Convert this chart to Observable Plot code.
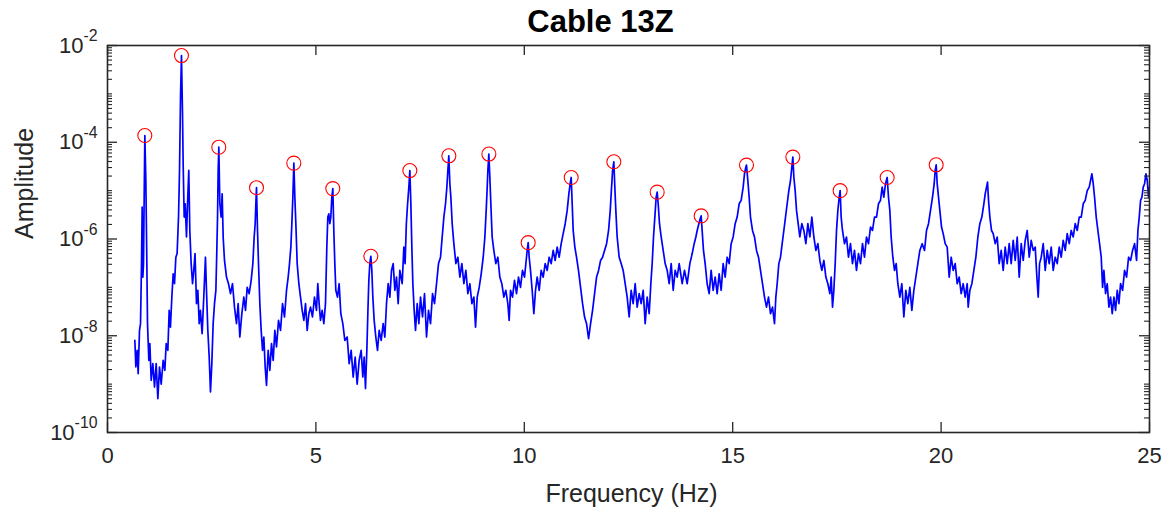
<!DOCTYPE html>
<html>
<head>
<meta charset="utf-8">
<script src="https://cdn.jsdelivr.net/npm/d3@7"></script>
<script src="https://cdn.jsdelivr.net/npm/@observablehq/plot@0.6"></script>
<style>
  html, body { margin: 0; padding: 0; background: #fff; }
  #chart { width: 1171px; height: 508px; }
</style>
</head>
<body>
<div id="chart"></div>
<script>
// Amplitude spectrum of cable 13Z: [frequency (Hz), amplitude]
const spectrum0to7 = [
  [0.656,8.0e-9],[0.68,2.26e-9],[0.712,5.0e-9],[0.736,1.64e-9],[0.768,1.29e-8],[0.792,1.78e-8],[0.816,3.1e-7],[0.832,4.57e-6],
  [0.848,1.63e-7],[0.864,3.1e-7],[0.88,7.3e-6],[0.896,1.38e-4],[0.92,1.62e-5],[0.944,3.1e-7],[0.96,1.78e-8],[0.992,3.1e-9],
  [1.016,6.9e-9],[1.048,1.2e-9],[1.088,2.65e-9],[1.128,8.7e-10],[1.168,2.65e-9],[1.208,5.0e-10],[1.248,2.26e-9],[1.288,1.0e-9],
  [1.336,3.1e-9],[1.376,1.93e-9],[1.408,6.9e-9],[1.448,5.0e-9],[1.48,3.35e-8],[1.51,1.51e-8],[1.544,6.3e-8],[1.576,1.91e-7],
  [1.608,1.19e-7],[1.64,4.2e-7],[1.67,5.0e-7],[1.704,2.84e-6],[1.728,2.61e-5],[1.752,8.6e-4],[1.775,6.2e-3],[1.8,3.87e-4],
  [1.815,3.59e-5],[1.84,2.84e-6],[1.864,5.35e-6],[1.895,1.1e-6],[1.92,5.35e-6],[1.95,2.61e-5],[1.975,1.5e-6],[2.007,3.1e-7],
  [2.04,1.19e-7],[2.07,2.24e-7],[2.1,5.0e-7],[2.135,4.6e-8],[2.167,8.7e-8],[2.2,1.78e-8],[2.23,3.35e-8],[2.27,1.1e-8],
  [2.31,6.3e-8],[2.35,4.2e-7],[2.375,8.7e-8],[2.407,1.29e-8],[2.44,3.6e-9],[2.471,6.9e-10],[2.503,2.65e-9],[2.535,1.78e-8],
  [2.567,4.6e-8],[2.6,8.7e-8],[2.623,5.8e-7],[2.64,2.84e-6],[2.655,2.61e-5],[2.671,7.9e-5],[2.695,5.35e-6],[2.727,2.84e-6],
  [2.751,8.6e-6],[2.775,1.1e-6],[2.807,3.6e-7],[2.855,1.63e-7],[2.903,1.19e-7],[2.951,7.4e-8],[2.999,1.19e-7],[3.047,3.9e-8],
  [3.095,1.78e-8],[3.135,4.6e-8],[3.175,9.4e-9],[3.223,2.86e-8],[3.271,6.3e-8],[3.311,3.35e-8],[3.351,1.0e-7],[3.399,7.4e-8],
  [3.447,1.4e-7],[3.487,3.1e-7],[3.519,1.1e-6],[3.543,2.07e-6],[3.559,5.35e-6],[3.575,1.15e-5],[3.599,1.5e-6],[3.623,3.1e-7],
  [3.655,4.6e-8],[3.687,1.29e-8],[3.719,5.0e-9],[3.751,9.4e-9],[3.783,2.26e-9],[3.815,9.4e-10],[3.855,5.0e-9],[3.895,1.93e-9],
  [3.935,6.9e-9],[3.975,3.1e-9],[4.015,1.29e-8],[4.055,5.85e-9],[4.103,2.08e-8],[4.151,1.29e-8],[4.199,4.6e-8],[4.247,2.44e-8],
  [4.295,8.7e-8],[4.335,1.63e-7],[4.367,3.1e-7],[4.399,6.8e-7],[4.423,2.07e-6],[4.447,7.3e-6],[4.471,3.7e-5],[4.495,7.3e-6],
  [4.519,2.07e-6],[4.551,3.1e-7],[4.591,1.19e-7],[4.631,6.3e-8],[4.671,3.35e-8],[4.711,2.08e-8],[4.751,4.6e-8],[4.791,1.29e-8],
  [4.831,2.86e-8],[4.871,3.9e-8],[4.918,2.44e-8],[4.966,6.3e-8],[5.014,3.35e-8],[5.046,1.19e-7],[5.078,4.6e-8],[5.11,2.08e-8],
  [5.15,3.35e-8],[5.19,1.78e-8],[5.23,4.6e-8],[5.262,6.8e-7],[5.286,2.84e-6],[5.31,3.3e-6],[5.334,2.07e-6],[5.358,2.84e-6],
  [5.382,7.3e-6],[5.406,1.1e-5],[5.43,1.5e-6],[5.454,3.1e-7],[5.478,8.7e-8],[5.518,6.3e-8],[5.558,1.19e-7],[5.598,2.86e-8],
  [5.646,1.78e-8],[5.694,8.0e-9],[5.75,9.4e-9],[5.798,2.65e-9],[5.846,5.0e-9],[5.894,1.4e-9],[5.942,3.6e-9],[5.99,1.0e-9],
  [6.038,3.1e-9],[6.086,5.0e-9],[6.126,1.4e-9],[6.158,3.6e-9],[6.19,8.1e-10],[6.222,5.0e-9],[6.246,2.86e-8],[6.27,1.4e-7],
  [6.294,3.1e-7],[6.318,4.4e-7],[6.342,2.24e-7],[6.366,6.3e-8],[6.398,2.08e-8],[6.438,9.4e-9],[6.478,5.0e-9],[6.518,1.29e-8],
  [6.566,8.0e-9],[6.614,1.78e-8],[6.654,9.4e-9],[6.694,4.6e-8],[6.734,1.19e-7],[6.774,6.3e-8],[6.814,2.24e-7],[6.854,3.1e-7],
  [6.894,8.7e-8],[6.934,1.63e-7],[6.974,4.6e-8],[7.014,2.24e-7]
];
const spectrum7to14 = [
  [7.07,1.19e-7],[7.11,6.8e-7],[7.14,3.1e-7],[7.17,2.07e-6],[7.2,5.35e-6],[7.23,1.18e-5],[7.254,2.6e-5],[7.278,5.35e-6],
  [7.302,6.8e-7],[7.326,1.19e-7],[7.358,3.35e-8],[7.39,1.29e-8],[7.43,4.6e-8],[7.47,1.78e-8],[7.51,6.3e-8],[7.558,2.44e-8],
  [7.606,7.4e-8],[7.654,9.4e-9],[7.702,3.35e-8],[7.75,1.78e-8],[7.798,7.4e-8],[7.846,4.6e-8],[7.894,1.19e-7],[7.942,3.1e-7],
  [7.99,4.2e-7],[8.03,1.1e-6],[8.07,2.84e-6],[8.11,5.35e-6],[8.142,1.18e-5],[8.166,2.6e-5],[8.189,5.25e-5],[8.214,1.39e-5],
  [8.238,7.3e-6],[8.27,2.07e-6],[8.31,8.0e-7],[8.358,3.1e-7],[8.406,4.2e-7],[8.454,1.63e-7],[8.502,3.1e-7],[8.55,1.19e-7],
  [8.598,2.24e-7],[8.646,7.4e-8],[8.694,1.19e-7],[8.742,4.6e-8],[8.79,6.3e-8],[8.83,1.51e-8],[8.87,6.3e-8],[8.918,1.0e-7],
  [8.966,1.91e-7],[9.014,4.2e-7],[9.054,1.1e-6],[9.086,3.9e-6],[9.11,1.18e-5],[9.126,2.6e-5],[9.149,5.7e-5],[9.173,1.9e-5],
  [9.197,5.35e-6],[9.229,1.1e-6],[9.269,5.8e-7],[9.317,3.1e-7],[9.365,4.2e-7],[9.413,1.63e-7],[9.461,1.19e-7],[9.509,6.3e-8],
  [9.557,8.7e-8],[9.605,4.6e-8],[9.637,2.08e-8],[9.669,8.7e-8],[9.717,6.3e-8],[9.765,1.4e-7],[9.813,7.4e-8],[9.861,1.63e-7],
  [9.909,1.0e-7],[9.957,2.24e-7],[10.005,1.63e-7],[10.045,3.6e-7],[10.069,5.8e-7],[10.093,8.4e-7],[10.117,4.2e-7],[10.149,2.24e-7],
  [10.189,8.7e-8],[10.229,2.86e-8],[10.269,8.7e-8],[10.309,1.63e-7],[10.357,8.7e-8],[10.405,2.24e-7],[10.453,1.63e-7],[10.501,3.1e-7],
  [10.549,2.24e-7],[10.597,4.2e-7],[10.645,3.1e-7],[10.693,5.8e-7],[10.741,3.6e-7],[10.789,6.8e-7],[10.837,4.2e-7],[10.885,8.0e-7],
  [10.933,1.29e-6],[10.981,2.07e-6],[11.029,3.9e-6],[11.069,8.6e-6],[11.101,1.39e-5],[11.125,1.87e-5],[11.149,5.35e-6],[11.173,1.5e-6],
  [11.213,6.8e-7],[11.253,4.2e-7],[11.3,2.24e-7],[11.35,1.0e-7],[11.398,4.6e-8],[11.446,2.44e-8],[11.494,1.78e-8],[11.542,8.7e-9],
  [11.59,1.78e-8],[11.638,3.35e-8],[11.686,7.4e-8],[11.734,1.63e-7],[11.782,2.24e-7],[11.83,3.6e-7],[11.878,4.2e-7],[11.926,5.8e-7],
  [11.974,8.0e-7],[12.022,1.5e-6],[12.062,3.9e-6],[12.094,1.18e-5],[12.118,2.6e-5],[12.148,3.95e-5],[12.172,1.18e-5],[12.196,3.9e-6],
  [12.228,1.1e-6],[12.276,4.2e-7],[12.324,3.1e-7],[12.372,2.24e-7],[12.42,1.19e-7],[12.468,6.3e-8],[12.516,2.44e-8],[12.564,8.7e-8],
  [12.612,4.6e-8],[12.66,1.19e-7],[12.708,3.9e-8],[12.756,7.4e-8],[12.804,4.6e-8],[12.852,8.7e-8],[12.9,1.78e-8],[12.948,6.3e-8],
  [12.996,2.86e-8],[13.036,1.19e-7],[13.068,3.1e-7],[13.1,1.1e-6],[13.132,2.84e-6],[13.164,7.3e-6],[13.188,9.3e-6],[13.212,5.35e-6],
  [13.244,2.07e-6],[13.284,1.1e-6],[13.332,5.8e-7],[13.38,3.1e-7],[13.428,2.24e-7],[13.476,1.19e-7],[13.524,3.1e-7],[13.572,8.7e-8],
  [13.62,2.24e-7],[13.668,1.63e-7],[13.716,3.1e-7]
];
const spectrum14to19 = [
  [13.788,1.19e-7],[13.844,2.24e-7],[13.908,1.19e-7],[13.972,3.1e-7],[14.028,5.0e-7],[14.076,8.0e-7],[14.116,1.1e-6],[14.148,1.5e-6],
  [14.188,2.07e-6],[14.22,2.62e-6],[14.243,3.0e-6],[14.267,1.5e-6],[14.299,5.8e-7],[14.339,3.1e-7],[14.387,1.19e-7],[14.435,7.4e-8],
  [14.483,2.24e-7],[14.531,8.7e-8],[14.579,1.63e-7],[14.627,7.4e-8],[14.675,1.91e-7],[14.723,8.7e-8],[14.771,3.1e-7],[14.819,1.63e-7],
  [14.867,4.2e-7],[14.915,3.1e-7],[14.963,8.0e-7],[15.011,1.1e-6],[15.059,2.07e-6],[15.107,2.84e-6],[15.155,5.35e-6],[15.203,6.3e-6],
  [15.251,1.18e-5],[15.283,2.23e-5],[15.315,3.06e-5],[15.331,3.37e-5],[15.363,1.62e-5],[15.395,7.3e-6],[15.427,2.84e-6],[15.475,1.5e-6],
  [15.523,1.1e-6],[15.571,5.8e-7],[15.619,4.2e-7],[15.667,2.24e-7],[15.715,1.19e-7],[15.763,6.3e-8],[15.811,3.9e-8],[15.859,6.3e-8],
  [15.907,2.86e-8],[15.955,3.9e-8],[16.003,1.78e-8],[16.035,6.3e-8],[16.067,1.19e-7],[16.107,3.1e-7],[16.147,4.2e-7],[16.187,8.0e-7],
  [16.227,1.5e-6],[16.267,2.84e-6],[16.307,5.35e-6],[16.347,1.0e-5],[16.387,1.62e-5],[16.419,3.06e-5],[16.443,4.93e-5],[16.467,1.9e-5],
  [16.499,1.0e-5],[16.531,3.9e-6],[16.571,2.07e-6],[16.611,1.1e-6],[16.659,2.07e-6],[16.707,1.5e-6],[16.755,8.0e-7],[16.803,2.07e-6],
  [16.851,1.1e-6],[16.899,2.84e-6],[16.947,1.1e-6],[16.995,5.8e-7],[17.043,8.0e-7],[17.091,3.6e-7],[17.139,2.24e-7],[17.187,3.6e-7],
  [17.235,1.63e-7],[17.283,1.19e-7],[17.331,7.4e-8],[17.363,1.63e-7],[17.395,3.9e-8],[17.427,8.7e-8],[17.459,3.1e-7],[17.491,1.5e-6],
  [17.523,3.9e-6],[17.555,7.3e-6],[17.578,1.0e-5],[17.602,2.84e-6],[17.634,1.5e-6],[17.682,8.0e-7],[17.73,1.1e-6],[17.778,4.2e-7],
  [17.826,8.0e-7],[17.874,3.1e-7],[17.922,5.8e-7],[17.97,2.24e-7],[18.018,5.0e-7],[18.066,3.1e-7],[18.114,8.0e-7],[18.162,4.2e-7],
  [18.21,1.1e-6],[18.258,8.0e-7],[18.306,1.77e-6],[18.354,1.5e-6],[18.402,2.84e-6],[18.45,2.84e-6],[18.498,5.35e-6],[18.546,6.3e-6],
  [18.586,1.18e-5],[18.626,7.3e-6],[18.666,1.39e-5],[18.706,1.87e-5],[18.738,7.3e-6],[18.77,3.9e-6],[18.802,1.1e-6],[18.842,4.2e-7],
  [18.882,2.24e-7],[18.922,3.1e-7],[18.962,1.19e-7],[19.01,6.3e-8],[19.058,1.19e-7],[19.106,2.44e-8],[19.154,8.7e-8],[19.202,4.6e-8],
  [19.25,1.0e-7],[19.298,3.35e-8],[19.346,8.7e-8],[19.394,1.63e-7],[19.442,3.1e-7],[19.49,5.8e-7]
];
const spectrum19to25 = [
  [19.546,8.0e-7],[19.602,5.8e-7],[19.65,1.5e-6],[19.698,2.07e-6],[19.746,3.9e-6],[19.794,7.3e-6],[19.834,1.39e-5],[19.858,2.6e-5],
  [19.882,3.42e-5],[19.906,1.39e-5],[19.938,7.3e-6],[19.97,3.9e-6],[20.01,1.77e-6],[20.05,1.29e-6],[20.098,8.0e-7],[20.146,6.8e-7],
  [20.194,1.63e-7],[20.242,4.2e-7],[20.29,2.24e-7],[20.338,3.1e-7],[20.386,1.19e-7],[20.434,1.63e-7],[20.482,7.4e-8],[20.53,1.19e-7],
  [20.578,6.3e-8],[20.626,1.19e-7],[20.65,3.9e-8],[20.69,8.7e-8],[20.738,1.19e-7],[20.786,2.24e-7],[20.834,4.2e-7],[20.882,1.1e-6],
  [20.93,2.07e-6],[20.978,2.84e-6],[21.026,5.35e-6],[21.058,8.6e-6],[21.09,1.18e-5],[21.114,1.5e-5],[21.138,6.3e-6],[21.17,2.84e-6],
  [21.21,1.5e-6],[21.25,1.29e-6],[21.298,8.0e-7],[21.346,1.1e-6],[21.394,3.1e-7],[21.442,5.8e-7],[21.49,2.24e-7],[21.538,6.8e-7],
  [21.586,3.1e-7],[21.634,8.0e-7],[21.682,3.1e-7],[21.73,9.35e-7],[21.778,3.6e-7],[21.826,1.1e-6],[21.874,1.63e-7],[21.922,8.0e-7],
  [21.97,3.6e-7],[22.018,9.35e-7],[22.066,1.5e-6],[22.114,4.2e-7],[22.162,9.35e-7],[22.21,5.8e-7],[22.258,6.8e-7],[22.298,1.63e-7],
  [22.33,6.3e-8],[22.362,3.1e-7],[22.402,4.2e-7],[22.45,8.0e-7],[22.498,2.24e-7],[22.546,5.8e-7],[22.594,3.1e-7],[22.642,6.8e-7],
  [22.69,2.24e-7],[22.738,4.2e-7],[22.786,3.1e-7],[22.834,6.8e-7],[22.882,4.2e-7],[22.93,9.35e-7],[22.978,5.8e-7],[23.026,1.29e-6],
  [23.074,8.0e-7],[23.122,1.5e-6],[23.17,1.1e-6],[23.218,2.07e-6],[23.266,1.5e-6],[23.314,2.84e-6],[23.362,2.84e-6],[23.41,5.35e-6],
  [23.458,6.3e-6],[23.506,1.0e-5],[23.554,1.18e-5],[23.586,1.62e-5],[23.618,2.23e-5],[23.65,1.39e-5],[23.682,7.3e-6],[23.722,2.84e-6],
  [23.762,1.5e-6],[23.802,8.0e-7],[23.842,4.2e-7],[23.874,1.0e-7],[23.906,2.24e-7],[23.946,7.4e-8],[23.986,1.19e-7],[24.026,3.9e-8],
  [24.066,6.3e-8],[24.106,2.86e-8],[24.146,6.3e-8],[24.186,3.35e-8],[24.226,8.7e-8],[24.266,4.6e-8],[24.306,1.19e-7],[24.354,8.7e-8],
  [24.402,2.24e-7],[24.45,1.63e-7],[24.498,4.2e-7],[24.546,3.6e-7],[24.594,5.8e-7],[24.642,8.0e-7],[24.69,3.6e-7],[24.722,1.5e-6],
  [24.754,2.84e-6],[24.786,6.3e-6],[24.818,7.3e-6],[24.85,1.18e-5],[24.882,1.39e-5],[24.914,2.23e-5],[24.946,1.62e-5],[24.978,7.3e-6],
  [25.0,1.18e-5]
];

// Picked resonance peaks
const peakFreq = [0.895, 1.775, 2.67, 3.575, 4.47, 5.405, 6.318, 7.254, 8.19, 9.15,
                  10.093, 11.125, 12.148, 13.188, 14.243, 15.331, 16.443, 17.578, 18.706, 19.882];
const peakAmp  = [1.38e-4, 6.2e-3, 7.9e-5, 1.15e-5, 3.7e-5, 1.1e-5, 4.4e-7, 2.6e-5, 5.25e-5, 5.7e-5,
                  8.4e-7, 1.87e-5, 3.95e-5, 9.3e-6, 3.0e-6, 3.37e-5, 4.93e-5, 1.0e-5, 1.87e-5, 3.42e-5];

// Axis ticks and texts
const xTicks = [0, 5, 10, 15, 20, 25];
const yTicks = [1e-10, 1e-8, 1e-6, 1e-4, 1e-2];
const titleText = "Cable 13Z";
const xLabel = "Frequency (Hz)";
const yLabel = "Amplitude";

const spectrum = [...spectrum0to7, ...spectrum7to14, ...spectrum14to19, ...spectrum19to25]
  .map(([f, a]) => ({f, a}));
const peaks = peakFreq.map((f, i) => ({f, a: peakAmp[i]}));

// minor log ticks: every 1..9 × 10^k that is not a labelled tick
const yMinor = [];
for (let k = -10; k < -2; k++) {
  for (let m = 1; m <= 9; m++) {
    const v = m * Math.pow(10, k);
    if (!(m === 1 && k % 2 === 0)) yMinor.push(v);
  }
}

const W = 1171, H = 508;
const mL = 107, mR = 22, mT = 45, mB = 76;
const fw = W - mL - mR, fh = H - mT - mB;
const ink = "#262626";
const font = "'Liberation Sans', Arial, Helvetica, sans-serif";

const chart = Plot.plot({
  width: W,
  height: H,
  marginLeft: mL, marginRight: mR, marginTop: mT, marginBottom: mB,
  style: {fontFamily: font, background: "#fff", color: ink, overflow: "visible"},
  x: {domain: [0, 25]},
  y: {type: "log", domain: [1e-10, 1e-2]},
  marks: [
    Plot.line(spectrum, {x: "f", y: "a", stroke: "#0000ff", strokeWidth: 1.7, strokeLinejoin: "round", clip: true}),
    Plot.dot(peaks, {x: "f", y: "a", r: 7, stroke: "#ff0000", fill: "none", strokeWidth: 1.1}),
    // inward tick marks on all four sides
    Plot.ruleX(xTicks, {x: d => d, insetTop: fh - 10, stroke: ink, strokeWidth: 1.3}),
    Plot.ruleX(xTicks, {x: d => d, insetBottom: fh - 10, stroke: ink, strokeWidth: 1.3}),
    Plot.ruleY(yTicks, {y: d => d, insetRight: fw - 10, stroke: ink, strokeWidth: 1.3}),
    Plot.ruleY(yTicks, {y: d => d, insetLeft: fw - 10, stroke: ink, strokeWidth: 1.3}),
    Plot.ruleY(yMinor, {y: d => d, insetRight: fw - 5, stroke: ink, strokeWidth: 1.1}),
    Plot.ruleY(yMinor, {y: d => d, insetLeft: fw - 5, stroke: ink, strokeWidth: 1.1}),
    Plot.frame({stroke: ink, strokeWidth: 1.6}),
    Plot.axisX({ticks: xTicks, tickSize: 0, tickPadding: 15, fontSize: 22, fill: ink, tickFormat: d => String(d), label: null}),
    Plot.axisY({ticks: yTicks, tickSize: 0, tickPadding: 10, fontSize: 22, fill: ink,
                tickFormat: d => String(Math.round(Math.log10(d))), label: null}),
    Plot.text([xLabel], {text: d => d, frameAnchor: "bottom", lineAnchor: "bottom", dx: 3, dy: 69,
                         fontSize: 25, fill: ink}),
    Plot.text([yLabel], {text: d => d, frameAnchor: "left", lineAnchor: "bottom", rotate: -90, dx: -75,
                         fontSize: 25, fill: ink}),
    Plot.text([titleText], {text: d => d, frameAnchor: "top-left", lineAnchor: "bottom", textAnchor: "middle",
                            dx: 493, dy: -14, fontSize: 31, fontWeight: "bold", fill: "#000"})
  ]
});

// render the y tick labels as powers of ten with a raised exponent
d3.select(chart).selectAll('[aria-label="y-axis tick label"] text').each(function () {
  const exp = this.textContent;
  const t = d3.select(this);
  t.text(null);
  t.append("tspan").text("10");
  t.append("tspan").attr("dy", "-0.7em").attr("font-size", "0.72em").text(exp);
});

document.getElementById("chart").appendChild(chart);
</script>
</body>
</html>
